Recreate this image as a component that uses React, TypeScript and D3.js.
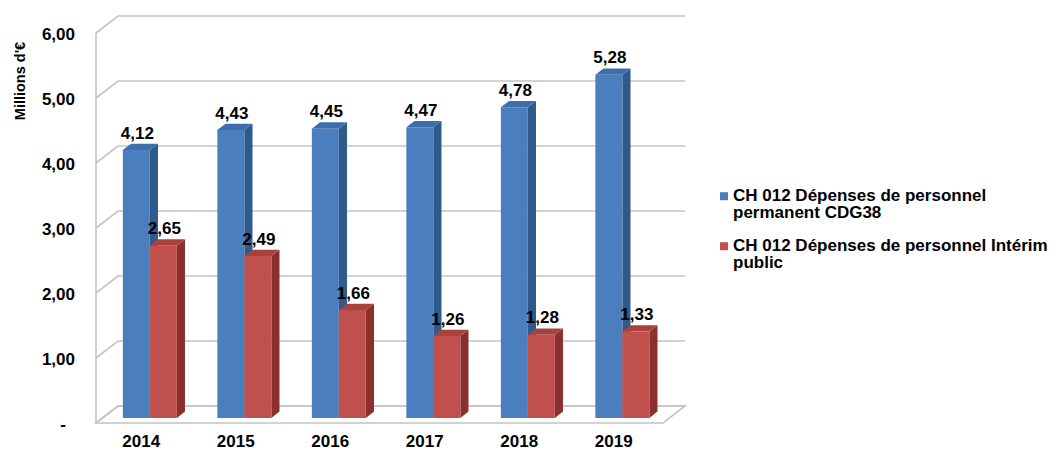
import React from "react";
import * as d3 from "d3";

const years = ["2014", "2015", "2016", "2017", "2018", "2019"];
const permanent = [4.12, 4.43, 4.45, 4.47, 4.78, 5.28];
const interim = [2.65, 2.49, 1.66, 1.26, 1.28, 1.33];
const yTicks = [0, 1, 2, 3, 4, 5, 6];
const seriesNames = [
  ["CH 012 Dépenses de personnel", "permanent CDG38"],
  ["CH 012 Dépenses de personnel Intérim", "public"],
];

const W = 1061;
const H = 450;
const FONT = "'Liberation Sans', Arial, sans-serif";
const DX = 22;
const DY = -17;
const F0 = 0.3;
const F1 = 0.67;
const GRID = "#C4C4C4";

const colors = [
  { front: "#4A7EBF", side: "#2E5A8C", top: "#3E6EAB" },
  { front: "#C0504D", side: "#8C302D", top: "#A9423F" },
];

const fmt = (v: number) => v.toFixed(2).replace(".", ",");

export default function App() {
  const y = d3.scaleLinear().domain([0, 6]).range([423, 33]);
  const x = d3.scaleBand<string>().domain(years).range([96, 663]).padding(0);
  const step = x.step();
  const barW = step / (2 + 1.5);
  const wallX0 = 96;
  const wallX1 = 663;

  const P = (px: number, v: number, f: number) => [px + f * DX, y(v) + f * DY];
  const pts = (arr: number[][]) => arr.map((p) => p.join(",")).join(" ");

  const bars: { x0: number; v: number; s: number }[] = [];
  years.forEach((yr, i) => {
    const g0 = (x(yr) as number) + (step - 2 * barW) / 2;
    bars.push({ x0: g0, v: permanent[i], s: 0 });
    bars.push({ x0: g0 + barW, v: interim[i], s: 1 });
  });

  return (
    <svg
      width={W}
      height={H}
      style={{ position: "absolute", left: 0, top: 0, background: "#fff" }}
      fontFamily={FONT}
    >
      {/* floor */}
      <polygon
        points={pts([P(wallX0, 0, 0), P(wallX1, 0, 0), P(wallX1, 0, 1), P(wallX0, 0, 1)])}
        fill="#fff"
        stroke={GRID}
        strokeWidth={1.6}
      />
      {/* gridlines: side wall + back wall */}
      {yTicks.map((t) => (
        <polyline
          key={t}
          points={pts([P(wallX0, t, 0), P(wallX0, t, 1), P(wallX1, t, 1)])}
          fill="none"
          stroke={GRID}
          strokeWidth={1.6}
        />
      ))}
      {/* side wall front edge */}
      <line x1={wallX0} x2={wallX0} y1={y(6)} y2={y(0)} stroke={GRID} strokeWidth={1.6} />

      {/* bars */}
      {bars.map((b, i) => {
        const c = colors[b.s];
        const x0 = b.x0;
        const x1 = b.x0 + barW;
        const front = [P(x0, b.v, F0), P(x1, b.v, F0), P(x1, 0, F0), P(x0, 0, F0)];
        const side = [P(x1, b.v, F0), P(x1, b.v, F1), P(x1, 0, F1), P(x1, 0, F0)];
        const top = [P(x0, b.v, F0), P(x1, b.v, F0), P(x1, b.v, F1), P(x0, b.v, F1)];
        return (
          <g key={i}>
            <polygon points={pts(side)} fill={c.side} />
            <polygon points={pts(top)} fill={c.top} />
            <polygon points={pts(front)} fill={c.front} />
          </g>
        );
      })}

      {/* value labels */}
      {bars.map((b, i) => {
        const [tx] = P(b.x0 + barW / 2, b.v, F0);
        const [, ty] = P(b.x0, b.v, F1);
        return (
          <text
            key={i}
            x={tx + 1}
            y={ty - 5}
            textAnchor="middle"
            fontSize={17}
            fontWeight="bold"
            fill="#000"
          >
            {fmt(b.v)}
          </text>
        );
      })}

      {/* y tick labels */}
      {yTicks.map((t) => (
        <text
          key={t}
          x={t === 0 ? 66 : 75}
          y={y(t) + 1}
          textAnchor="end"
          dominantBaseline="central"
          fontSize={17}
          fontWeight="bold"
          fill="#000"
        >
          {t === 0 ? "-" : fmt(t)}
        </text>
      ))}

      {/* y title */}
      <text
        transform={`translate(25,${81}) rotate(-90)`}
        textAnchor="middle"
        fontSize={14.5}
        fontWeight="bold"
        fill="#000"
      >
        Millions d'€
      </text>

      {/* x labels */}
      {years.map((yr) => (
        <text
          key={yr}
          x={(x(yr) as number) + step / 2 - 2}
          y={447}
          textAnchor="middle"
          fontSize={17}
          fontWeight="bold"
          fill="#000"
        >
          {yr}
        </text>
      ))}

      {/* legend */}
      {seriesNames.map((lines, i) => {
        const base = 200.7 + i * 50;
        return (
          <g key={i}>
            <rect x={720} y={base - 8.5} width={8} height={8} fill={colors[i].front} />
            {lines.map((ln, j) => (
              <text
                key={j}
                x={733}
                y={base + j * 17}
                fontSize={17}
                fontWeight="bold"
                fill="#000"
              >
                {ln}
              </text>
            ))}
          </g>
        );
      })}
    </svg>
  );
}
